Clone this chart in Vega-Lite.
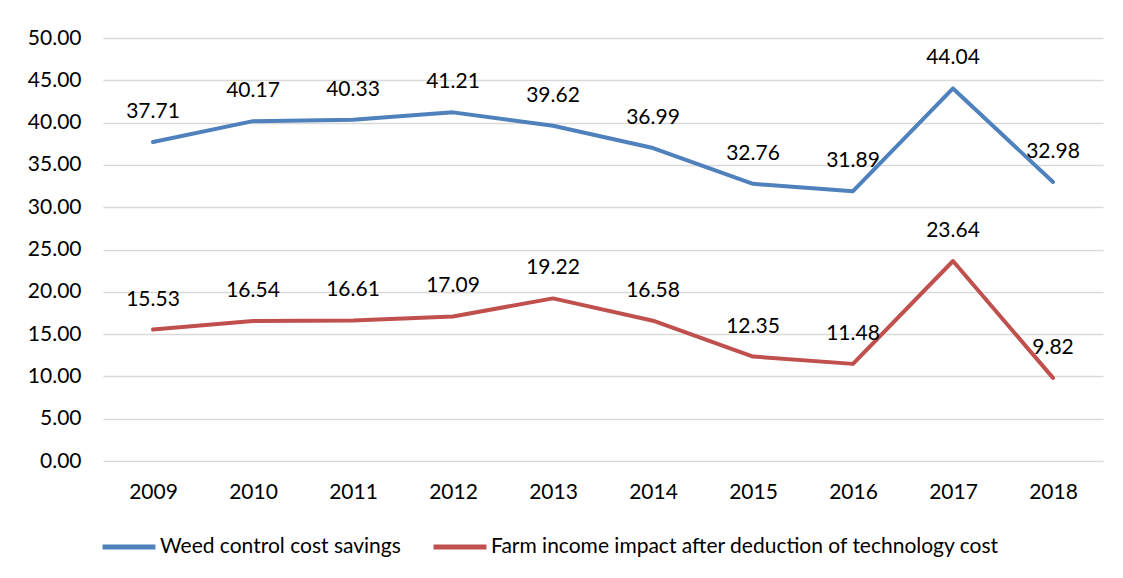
{
  "$schema": "https://vega.github.io/schema/vega-lite/v6.json",
  "width": 1000,
  "height": 423,
  "autosize": {"type": "none"},
  "padding": {"left": 103, "top": 38, "right": 20, "bottom": 117},
  "background": "white",
  "config": {
    "font": "Lato",
    "view": {"stroke": null},
    "axis": {"labelFont": "Lato", "labelFontSize": 21, "labelColor": "#000000", "domain": false, "ticks": false, "title": null},
    "legend": {"labelFont": "Lato", "labelFontSize": 21, "labelColor": "#000000", "labelLimit": 0}
  },
  "data": {
    "values": [
      {"year": "2009", "series": "Weed control cost savings", "value": 37.71},
      {"year": "2010", "series": "Weed control cost savings", "value": 40.17},
      {"year": "2011", "series": "Weed control cost savings", "value": 40.33},
      {"year": "2012", "series": "Weed control cost savings", "value": 41.21},
      {"year": "2013", "series": "Weed control cost savings", "value": 39.62},
      {"year": "2014", "series": "Weed control cost savings", "value": 36.99},
      {"year": "2015", "series": "Weed control cost savings", "value": 32.76},
      {"year": "2016", "series": "Weed control cost savings", "value": 31.89},
      {"year": "2017", "series": "Weed control cost savings", "value": 44.04},
      {"year": "2018", "series": "Weed control cost savings", "value": 32.98},
      {"year": "2009", "series": "Farm income impact after deduction of technology cost", "value": 15.53},
      {"year": "2010", "series": "Farm income impact after deduction of technology cost", "value": 16.54},
      {"year": "2011", "series": "Farm income impact after deduction of technology cost", "value": 16.61},
      {"year": "2012", "series": "Farm income impact after deduction of technology cost", "value": 17.09},
      {"year": "2013", "series": "Farm income impact after deduction of technology cost", "value": 19.22},
      {"year": "2014", "series": "Farm income impact after deduction of technology cost", "value": 16.58},
      {"year": "2015", "series": "Farm income impact after deduction of technology cost", "value": 12.35},
      {"year": "2016", "series": "Farm income impact after deduction of technology cost", "value": 11.48},
      {"year": "2017", "series": "Farm income impact after deduction of technology cost", "value": 23.64},
      {"year": "2018", "series": "Farm income impact after deduction of technology cost", "value": 9.82}
    ]
  },
  "encoding": {
    "x": {
      "field": "year", "type": "ordinal",
      "scale": {"type": "point", "padding": 0.5},
      "axis": {"labelAngle": 0, "grid": false, "labelPadding": 20, "labelBaseline": "top"}
    },
    "y": {
      "field": "value", "type": "quantitative",
      "scale": {"domain": [0, 50], "nice": false},
      "axis": {"values": [0, 5, 10, 15, 20, 25, 30, 35, 40, 45, 50], "format": ".2f", "gridColor": "#d9d9d9", "gridWidth": 1.5, "labelPadding": 22}
    }
  },
  "layer": [
    {
      "mark": {"type": "line", "strokeWidth": 4, "strokeCap": "round", "strokeJoin": "round"},
      "encoding": {
        "color": {
          "field": "series", "type": "nominal",
          "scale": {"domain": ["Weed control cost savings", "Farm income impact after deduction of technology cost"], "range": ["#4F81BD", "#C0504D"]},
          "legend": {
            "title": null, "orient": "none", "direction": "horizontal",
            "legendX": -3, "legendY": 480,
            "symbolType": "stroke", "symbolSize": 2800, "symbolStrokeWidth": 5,
            "labelOffset": 2, "columnPadding": 22
          }
        }
      }
    },
    {
      "mark": {"type": "text", "dy": -30, "fontSize": 21, "font": "Lato", "color": "#000000"},
      "encoding": {
        "text": {"field": "value", "type": "quantitative", "format": ".2f"},
        "detail": {"field": "series"}
      }
    }
  ]
}
